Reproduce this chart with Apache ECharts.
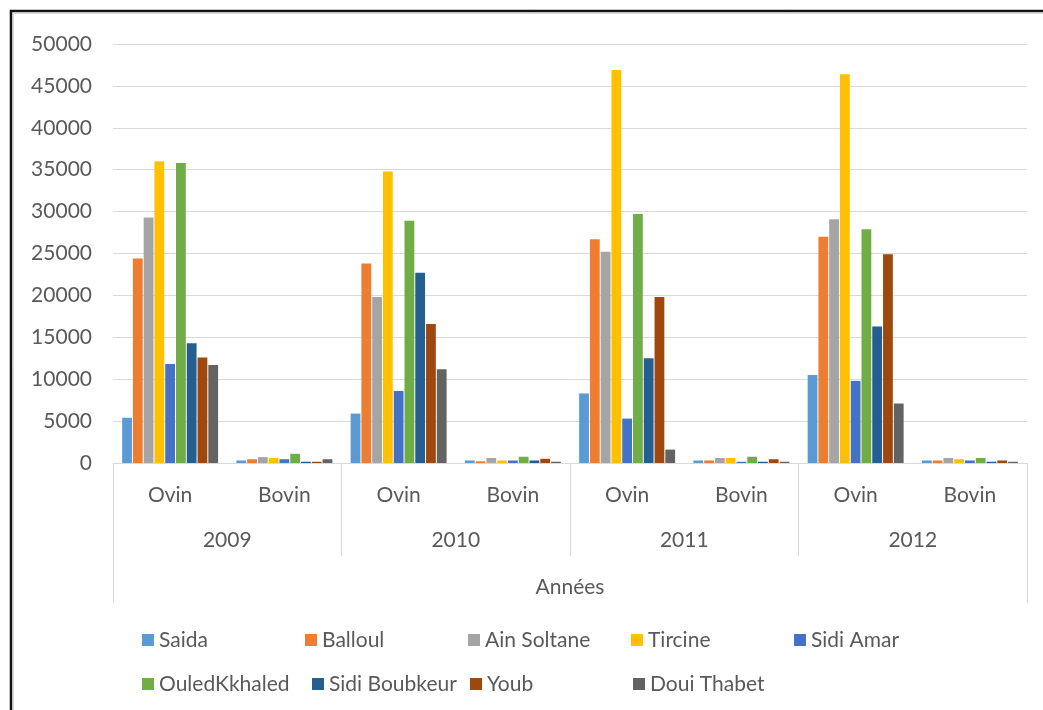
<!DOCTYPE html>
<html>
<head>
<meta charset="utf-8">
<script src="https://cdn.jsdelivr.net/npm/echarts@6/dist/echarts.min.js"></script>
<style>
  html, body { margin: 0; padding: 0; background: #ffffff; }
  #chart { width: 1043px; height: 710px; }
</style>
</head>
<body>
<div id="chart"></div>
<script>
// Effectifs ovins / bovins par commune, 2009-2012
const years = ['2009', '2010', '2011', '2012'];
const types = ['Ovin', 'Bovin'];
const axisTitle = 'Années';
const yTicks = { min: 0, max: 50000, step: 5000 };

const communes = ['Saida', 'Balloul', 'Ain Soltane', 'Tircine', 'Sidi Amar',
                  'OuledKkhaled', 'Sidi Boubkeur', 'Youb', 'Doui Thabet'];

// values per commune: [2009 Ovin, 2009 Bovin, 2010 Ovin, 2010 Bovin, 2011 Ovin, 2011 Bovin, 2012 Ovin, 2012 Bovin]
const saida        = [5400,  300, 5900,  300,  8300, 300, 10500, 300];
const balloul      = [24400, 450, 23800, 200, 26700, 300, 27000, 300];
const ainSoltane   = [29300, 700, 19800, 600, 25200, 600, 29100, 600];
const tircine      = [36000, 600, 34800, 300, 46900, 600, 46400, 450];
const sidiAmar     = [11800, 450, 8600,  300,  5300, 150,  9800, 300];
const ouledKkhaled = [35800, 1100, 28900, 750, 29700, 750, 27900, 600];
const sidiBoubkeur = [14300, 150, 22700, 300, 12500, 150, 16300, 150];
const youb         = [12600, 150, 16600, 500, 19800, 450, 24900, 300];
const douiThabet   = [11700, 450, 11200, 150,  1600, 150,  7100, 150];

const seriesValues = [saida, balloul, ainSoltane, tircine, sidiAmar,
                      ouledKkhaled, sidiBoubkeur, youb, douiThabet];
const colors = ['#5B9BD5', '#ED7D31', '#A5A5A5', '#FFC000', '#4472C4',
                '#70AD47', '#255E91', '#9E480E', '#636363'];

// inner category level: type within each year
const categories = [];
years.forEach(() => types.forEach(t => categories.push(t)));

const FONT = 'Lato';
const TXT = '#595959';
const GRID_LINE = '#D9D9D9';

// legend layout: two rows, fixed text box widths per entry
const legendRow1 = [
  { name: 'Saida', w: 136 }, { name: 'Balloul', w: 136 }, { name: 'Ain Soltane', w: 136 },
  { name: 'Tircine', w: 136 }, { name: 'Sidi Amar', w: 136 }
];
const legendRow2 = [
  { name: 'OuledKkhaled', w: 143 }, { name: 'Sidi Boubkeur', w: 131 },
  { name: 'Youb', w: 136 }, { name: 'Doui Thabet', w: 136 }
];
function legendOf(row, top) {
  return {
    left: 137, top: top, orient: 'horizontal',
    itemWidth: 12, itemHeight: 12, itemGap: 10,
    icon: 'rect', selectedMode: false,
    textStyle: { fontFamily: FONT, fontSize: 21, color: TXT, lineHeight: 24 },
    data: row.map(it => ({ name: it.name, textStyle: { width: it.w, overflow: 'none' } }))
  };
}

const chart = echarts.init(document.getElementById('chart'), null, { renderer: 'canvas' });

chart.setOption({
  backgroundColor: '#ffffff',
  animation: false,
  color: colors,
  graphic: [
    { type: 'rect', shape: { x: 13.5, y: 13.5, width: 1040, height: 710 },
      style: { fill: 'none', stroke: '#D9D9D9', lineWidth: 1 }, silent: true },
    { type: 'rect', shape: { x: 11, y: 11, width: 1050, height: 720 },
      style: { fill: 'none', stroke: '#111111', lineWidth: 2.5 }, silent: true }
  ],
  grid: { left: 113, right: 16, top: 44, bottom: 247, containLabel: false },
  legend: [legendOf(legendRow1, 623), legendOf(legendRow2, 667)],
  xAxis: [
    {
      type: 'category', data: categories, gridIndex: 0, position: 'bottom',
      axisLine: { show: true, lineStyle: { color: GRID_LINE, width: 1 } },
      axisTick: { show: false },
      axisLabel: { fontFamily: FONT, fontSize: 21, color: TXT, margin: 22, interval: 0 }
    },
    {
      type: 'category', data: years, gridIndex: 0, position: 'bottom',
      axisLine: { show: false },
      axisTick: { show: true, length: 93, lineStyle: { color: GRID_LINE, width: 1 } },
      axisLabel: { fontFamily: FONT, fontSize: 21, color: TXT, margin: 67, interval: 0 }
    },
    {
      type: 'category', data: [axisTitle], gridIndex: 0, position: 'bottom',
      axisLine: { show: false },
      axisTick: { show: true, length: 140, lineStyle: { color: GRID_LINE, width: 1 } },
      axisLabel: { fontFamily: FONT, fontSize: 21, color: TXT, margin: 114 }
    }
  ],
  yAxis: {
    type: 'value', min: yTicks.min, max: yTicks.max, interval: yTicks.step,
    axisLine: { show: false }, axisTick: { show: false },
    splitLine: { lineStyle: { color: GRID_LINE, width: 1 } },
    axisLabel: { fontFamily: FONT, fontSize: 21, color: TXT, margin: 21,
                 formatter: v => String(v) }
  },
  series: communes.map((name, i) => ({
    name: name, type: 'bar', xAxisIndex: 0,
    data: seriesValues[i],
    barGap: '10%', barCategoryGap: '16%',
    itemStyle: { color: colors[i] }
  }))
});
</script>
</body>
</html>
